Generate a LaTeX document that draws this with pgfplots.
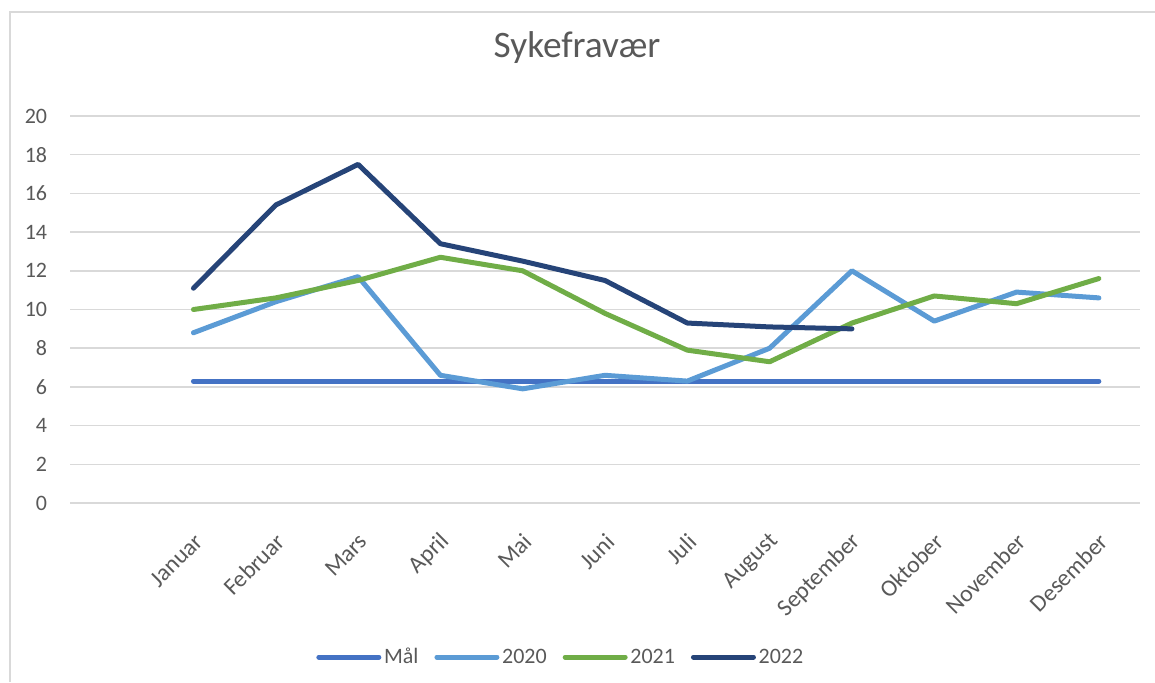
\documentclass[border=0pt]{standalone}
\usepackage{fontspec}
\setmainfont{Carlito}
\usepackage{pgfplots}
\pgfplotsset{compat=1.18}
\definecolor{txt}{HTML}{595959}
\definecolor{grd}{HTML}{D9D9D9}
\definecolor{cmal}{HTML}{4472C4}
\definecolor{c20}{HTML}{5B9BD5}
\definecolor{c21}{HTML}{70AD47}
\definecolor{c22}{HTML}{264478}
\begin{document}
\begin{tikzpicture}
\path[use as bounding box] (0,0) rectangle (866.25pt,-511.5pt);
\draw[grd, line width=1.5pt] (7.5pt,-511.5pt) -- (7.5pt,-9pt) -- (866.25pt,-9pt);
\node[font=\fontsize{28}{34}\selectfont, text=txt] at (432.75pt,-36pt) {Sykefravær};
\begin{axis}[
 at={(52.5pt,-377.25pt)}, anchor=south west,
 scale only axis, width=802.5pt, height=290.25pt,
 xmin=-1.5, xmax=11.5, ymin=0, ymax=20,
 ytick={0,2,...,20},
 xtick={0,...,11},
 xticklabels={Januar,Februar,Mars,April,Mai,Juni,Juli,August,September,Oktober,November,Desember},
 axis line style={draw=none},
 major tick style={draw=none},
 ymajorgrids, major grid style={grd, line width=1.1pt},
 /pgf/number format/assume math mode=true,
 tick label style={font=\fontsize{16.5}{20}\selectfont, text=txt},
 yticklabel style={inner sep=0pt, anchor=east, xshift=-17pt},
 xticklabel style={font=\fontsize{17.8}{21}\selectfont, inner sep=0pt, xshift=4pt, yshift=-26pt, rotate=45, anchor=east},
 legend columns=4,
 legend style={at={(0.459,-0.398)}, anchor=center, draw=none, fill=none,
   font=\fontsize{16.5}{20}\selectfont, text=txt,
   /tikz/every even column/.append style={column sep=10pt}},
 legend image code/.code={\draw[#1, line width=3.75pt, line cap=round] (0pt,0pt) -- (45pt,0pt);},
 every axis plot/.append style={line width=3.75pt, line cap=round, line join=round},
]
\addplot[cmal] coordinates {(0,6.3)(1,6.3)(2,6.3)(3,6.3)(4,6.3)(5,6.3)(6,6.3)(7,6.3)(8,6.3)(9,6.3)(10,6.3)(11,6.3)};
\addlegendentry{Mål}
\addplot[c20] coordinates {(0,8.8)(1,10.4)(2,11.7)(3,6.6)(4,5.9)(5,6.6)(6,6.3)(7,8.0)(8,12.0)(9,9.4)(10,10.9)(11,10.6)};
\addlegendentry{2020}
\addplot[c21] coordinates {(0,10.0)(1,10.6)(2,11.5)(3,12.7)(4,12.0)(5,9.8)(6,7.9)(7,7.3)(8,9.3)(9,10.7)(10,10.3)(11,11.6)};
\addlegendentry{2021}
\addplot[c22] coordinates {(0,11.1)(1,15.4)(2,17.5)(3,13.4)(4,12.5)(5,11.5)(6,9.3)(7,9.1)(8,9.0)};
\addlegendentry{2022}
\end{axis}
\end{tikzpicture}
\end{document}
